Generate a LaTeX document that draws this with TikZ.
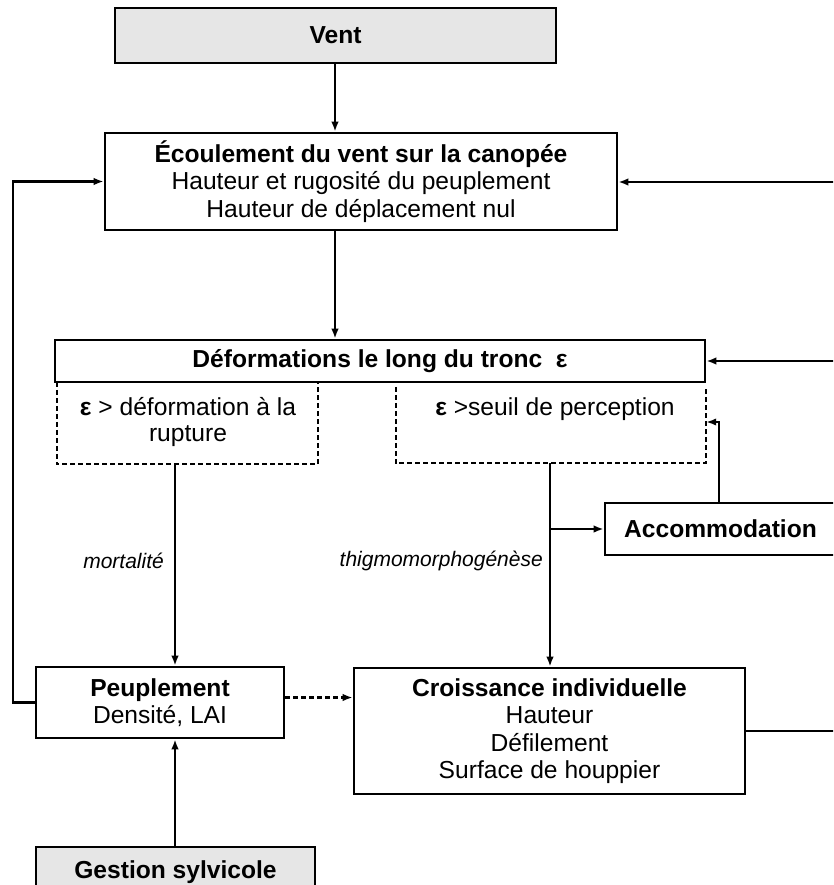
\documentclass[tikz,border=0pt]{standalone}
\usepackage{fontspec}
\setmainfont{Liberation Sans}
\usetikzlibrary{arrows.meta}
\definecolor{boxgray}{HTML}{E6E6E6}
\tikzset{
  box/.style={draw, line width=2.6pt, rectangle, inner sep=0pt, align=center,
    font=\fontsize{24.6}{27.5}\selectfont},
  graybox/.style={box, fill=boxgray},
  hidbox/.style={rectangle, inner sep=0pt},
  txt/.style={inner sep=0pt, align=center, font=\fontsize{24.6}{26}\selectfont},
  lab/.style={inner sep=0pt, font=\fontsize{21}{24}\selectfont\itshape},
  arr/.style={line width=2.2pt, -{Latex[length=10pt,width=7.5pt]}},
  ln/.style={line width=2.2pt},
  dashln/.style={line width=2.4pt, dash pattern=on 5pt off 3pt},
  dasharr/.style={arr, dash pattern=on 5pt off 3pt}
}
\begin{document}
\begin{tikzpicture}[x=1pt,y=-1pt]
\useasboundingbox (0,0) rectangle (833,885);
\clip (0,0) rectangle (833,885);

% nodes
\node[graybox, minimum width=441pt, minimum height=55pt] (vent) at (335.5,35.5) {\bfseries Vent};
\node[box, minimum width=512pt, minimum height=97pt] (ecoul) at (361,181.5)
  {\bfseries \'Ecoulement du vent sur la canop\'ee\\Hauteur et rugosit\'e du peuplement\\Hauteur de d\'eplacement nul};
\node[box, minimum width=650pt, minimum height=42pt] (def) at (380,361)
  {\bfseries D\'eformations le long du tronc\ \ ε};

\node[hidbox, minimum width=261pt, minimum height=82pt] (dl) at (187.5,423) {};
\node[txt, anchor=north] (dlt) at (188,397) {\textbf{ε} > d\'eformation \`a la\\rupture};
\node[hidbox, minimum width=310pt, minimum height=76pt] (dr) at (551,425) {};
\node[txt, anchor=north] (drt) at (555,397) {\textbf{ε} >seuil de perception};

\node[box, minimum width=231pt, minimum height=52pt] (acc) at (720.5,529) {\bfseries Accommodation};

\node[box, minimum width=248pt, minimum height=71pt] (peup) at (160,702.5)
  {\bfseries Peuplement\\Densit\'e, LAI};
\node[box, minimum width=391pt, minimum height=126pt] (crois) at (549.5,731)
  {\bfseries Croissance individuelle\\Hauteur\\D\'efilement\\Surface de houppier};
\node[graybox, minimum width=279pt, minimum height=50pt] (gest) at (175.5,872) {\bfseries Gestion sylvicole};

\node[lab, anchor=east] (mort) at (164,561) {mortalit\'e};
\node[lab, anchor=east] (thig) at (543,561) {thigmomorphog\'en\`ese};

% helper coordinates
\coordinate (xa) at (335,0);
\coordinate (xl) at (175,0);
\coordinate (xr) at (550,0);
\coordinate (xacc) at (719,0);
\coordinate (edge1) at (845,182);
\coordinate (edge2) at (845,361);
\coordinate (edge3) at (845,731);

% dashed boxes
\draw[dashln] (dl.north west) -- (dl.south west) -- (dl.south east) -- (dl.north east);
\draw[dashln] (dr.north west) -- (dr.south west) -- (dr.south east) -- (dr.north east);

% connectors
\draw[arr] (vent.south -| xa) -- (ecoul.north -| xa);
\draw[arr] (ecoul.south -| xa) -- (def.north -| xa);
\draw[arr] (dl.south -| xl) -- (peup.north -| xl);
\draw[arr] (dr.south -| xr) -- (crois.north -| xr);
\draw[arr] (acc.west -| xr) -- (acc.west);
\draw[arr] (acc.north -| xacc) |- ([yshift=3pt]dr.east);
\draw[arr] (peup.west) -- ++(-22,0) |- (ecoul.west);
\draw[dasharr] ([yshift=5pt]peup.east) -- ([yshift=5pt]peup.east -| crois.west);
\draw[arr] (gest.north -| xl) -- (peup.south -| xl);
\draw[ln] (crois.east |- edge3) -- (edge3);
\draw[arr] (edge1) -- (ecoul.east |- edge1);
\draw[arr] (edge2) -- (def.east);
\end{tikzpicture}
\end{document}
